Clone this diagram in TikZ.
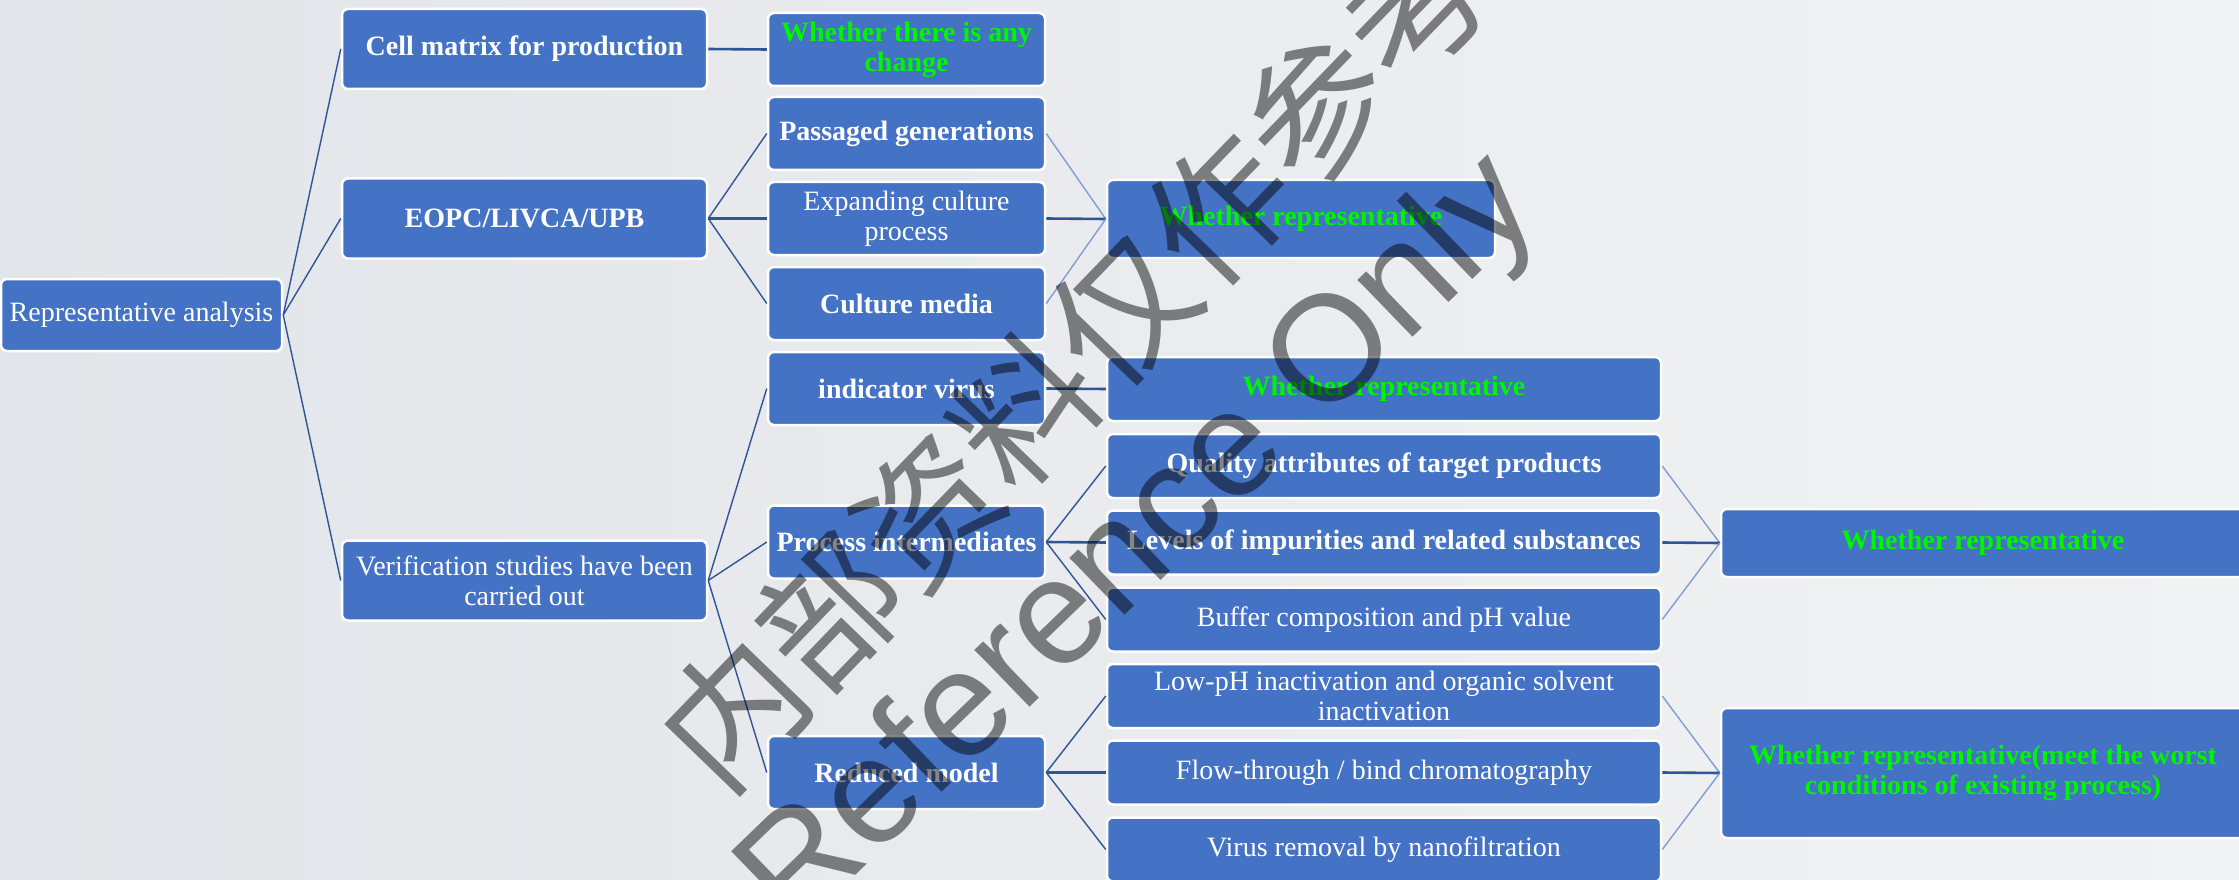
\documentclass[tikz,border=0pt]{standalone}
\usepackage{fontspec}
\setmainfont{Liberation Serif}
\newfontfamily\cjkwm{Noto Sans CJK SC}
\newfontfamily\wmsans{Liberation Sans}
\definecolor{boxblue}{HTML}{4472C4}
\definecolor{wgreen}{RGB}{0,245,0}
\definecolor{linkdark}{HTML}{2F5597}
\definecolor{linklight}{HTML}{7F9FD3}
\definecolor{bgL}{HTML}{E2E5E9}
\definecolor{bgR}{HTML}{F1F2F4}
\definecolor{wmgray}{HTML}{858585}
\tikzset{
  nbox/.style={rectangle, rounded corners=6pt, fill=boxblue, draw=white, line width=2.5pt,
    text=white, font=\fontsize{28}{30}\selectfont, align=center, inner sep=0pt},
  bnbox/.style={nbox, font=\fontsize{28}{30}\selectfont\bfseries},
  gnbox/.style={bnbox, text=wgreen},
  conn/.style={draw=linkdark, line width=1.4pt},
  hconn/.style={draw=linkdark, line width=2.6pt},
  lconn/.style={draw=linklight, line width=1.4pt},
}
\begin{document}
\begin{tikzpicture}[x=1pt,y=-1pt]
\useasboundingbox (0,0) rectangle (2239,880);
\clip (0,0) rectangle (2239,880);
\fill[left color=bgL, right color=bgR] (0,0) rectangle (2239,880);

% nodes
\node[nbox, minimum width=281, minimum height=72] (root) at (141.5,315) {Representative analysis};
\node[bnbox, minimum width=365, minimum height=80] (cell) at (524.5,49) {Cell matrix for production};
\node[bnbox, minimum width=365, minimum height=80] (eopc) at (524.5,218.5) {EOPC/LIVCA/UPB};
\node[nbox, minimum width=365, minimum height=80] (verif) at (524.5,580.5) {Verification studies have been\\carried out};

\node[gnbox, minimum width=277, minimum height=73] (change) at (906.5,49.5) {Whether there is any\\change};
\node[bnbox, minimum width=277, minimum height=73] (passaged) at (906.5,133.5) {Passaged generations};
\node[nbox, minimum width=277, minimum height=73] (expanding) at (906.5,218.5) {Expanding culture\\process};
\node[bnbox, minimum width=277, minimum height=73] (culture) at (906.5,303.5) {Culture media};
\node[bnbox, minimum width=277, minimum height=73] (indicator) at (906.5,388.5) {indicator virus};
\node[bnbox, minimum width=277, minimum height=73] (process) at (906.5,542) {Process intermediates};
\node[bnbox, minimum width=277, minimum height=73] (reduced) at (906.5,772.5) {Reduced model};

\node[gnbox, minimum width=388, minimum height=78] (wr1) at (1301,219) {Whether representative};
\node[gnbox, minimum width=554, minimum height=64] (wr2) at (1384,389) {Whether representative};
\node[bnbox, minimum width=554, minimum height=64] (quality) at (1384,466) {Quality attributes of target products};
\node[bnbox, minimum width=554, minimum height=64] (levels) at (1384,542.5) {Levels of impurities and related substances};
\node[nbox, minimum width=554, minimum height=64] (buffer) at (1384,619.5) {Buffer composition and pH value};
\node[nbox, minimum width=554, minimum height=64] (lowph) at (1384,696) {Low-pH inactivation and organic solvent\\inactivation};
\node[nbox, minimum width=554, minimum height=64] (flow) at (1384,772.5) {Flow-through / bind chromatography};
\node[nbox, minimum width=554, minimum height=64] (virus) at (1384,849.5) {Virus removal by nanofiltration};

\node[gnbox, minimum width=524, minimum height=68] (wr3) at (1983,543) {Whether representative};
\node[gnbox, minimum width=524, minimum height=130] (wr4) at (1983,773) {Whether representative(meet the worst\\conditions of existing process)};

% connectors
\begin{scope}[on background layer/.style={}]
\end{scope}
\draw[conn] (root.east) -- (cell.west);
\draw[conn] (root.east) -- (eopc.west);
\draw[conn] (root.east) -- (verif.west);
\draw[hconn] (cell.east) -- (change.west);
\draw[conn] (eopc.east) -- (passaged.west);
\draw[hconn] (eopc.east) -- (expanding.west);
\draw[conn] (eopc.east) -- (culture.west);
\draw[conn] (verif.east) -- (indicator.west);
\draw[conn] (verif.east) -- (process.west);
\draw[conn] (verif.east) -- (reduced.west);
\draw[lconn] (passaged.east) -- (wr1.west);
\draw[hconn] (expanding.east) -- (wr1.west);
\draw[lconn] (culture.east) -- (wr1.west);
\draw[hconn] (indicator.east) -- (wr2.west);
\draw[conn] (process.east) -- (quality.west);
\draw[hconn] (process.east) -- (levels.west);
\draw[conn] (process.east) -- (buffer.west);
\draw[lconn] (quality.east) -- (wr3.west);
\draw[hconn] (levels.east) -- (wr3.west);
\draw[lconn] (buffer.east) -- (wr3.west);
\draw[conn] (reduced.east) -- (lowph.west);
\draw[hconn] (reduced.east) -- (flow.west);
\draw[conn] (reduced.east) -- (virus.west);
\draw[lconn] (lowph.east) -- (wr4.west);
\draw[hconn] (flow.east) -- (wr4.west);
\draw[lconn] (virus.east) -- (wr4.west);

% watermark
\begin{scope}[blend mode=multiply]
\node[text=wmgray, rotate=46, inner sep=0pt, font=\cjkwm\fontsize{140}{140}\selectfont] (wmcn) at (1073,360) {内部资料仅作参考};
\node[text=wmgray, rotate=44, inner sep=0pt, font=\wmsans\fontsize{150}{150}\selectfont] (wmen) at (1142,545) {Reference Only};
\end{scope}
\end{tikzpicture}
\end{document}
